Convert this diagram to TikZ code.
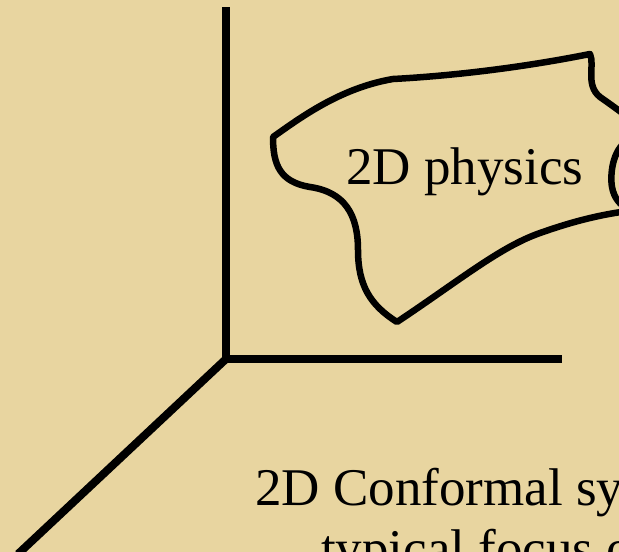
\documentclass[tikz,border=0pt]{standalone}
\usepackage{fontspec}
\setmainfont{Liberation Serif}
\usetikzlibrary{positioning}
\definecolor{cfParch}{HTML}{E8D5A0}
\definecolor{cfInk}{HTML}{000000}
\tikzset{
  cfaxis/.style={draw=cfInk, line width=8pt},
  cfblob/.style={draw=cfInk, line width=6.5pt, line join=round},
  cflabel/.style={font=\fontsize{53}{60}\selectfont, text=cfInk, inner sep=0pt}
}
\begin{document}
\begin{tikzpicture}[x=1pt, y=-1pt]
        \fill[cfParch] (0,0) rectangle (619,552);
        \useasboundingbox (0,0) rectangle (619,552);
        \clip (0,0) rectangle (619,552);
        % axes
        \coordinate (origin) at (226,359);
        \coordinate (ytop) at (226,7);
        \coordinate (xend) at (562,359);
        \coordinate (zend) at (18,554);
        \draw[cfaxis] (ytop) -- (origin) -- (xend);
        \draw[cfaxis] (origin) -- (zend);
        % region
        \draw[cfblob] (273,137) .. controls (300,118) and (340,88) .. (393,79)
          .. controls (450,76) and (520,68) .. (590,54)
          .. controls (595,65) and (585,85) .. (600,97)
          .. controls (610,104) .. (625,115) -- (628,140)
          .. controls (612,150) and (610,175) .. (612,187)
          .. controls (614,198) and (620,205) .. (628,209) -- (628,211)
          .. controls (590,216) and (560,226) .. (540,233)
          .. controls (500,247) and (460,280) .. (397,322)
          .. controls (370,305) and (358,285) .. (358,250)
          .. controls (358,215) and (345,192) .. (310,187)
          .. controls (280,182) and (273,165) .. (273,137) -- cycle;
        \node[cflabel, anchor=base west] (phys) at (346,184) {2D physics};
        \node[cflabel, anchor=base west] (conf) at (255,505) {2D Conformal sy};
        \node[cflabel, anchor=base west] (focus) at (321,566) {typical focus o};
      \end{tikzpicture}
\end{document}
